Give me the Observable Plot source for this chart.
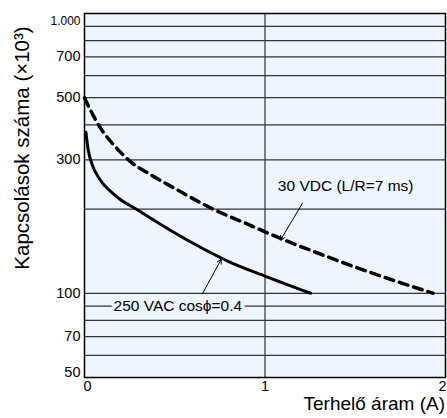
<!DOCTYPE html>
<html>
<head>
<meta charset="utf-8">
<script src="https://cdn.jsdelivr.net/npm/d3@7"></script>
<script src="https://cdn.jsdelivr.net/npm/@observablehq/plot@0.6"></script>
<style>
  html, body { margin: 0; padding: 0; background: white; }
</style>
</head>
<body>
<div id="chart"></div>
<script>
// ---- data ----
const vacX = [0.008, 0.019, 0.042, 0.086, 0.169, 0.297, 0.475, 0.642, 0.808, 1.003, 1.253];
const vacY = [376, 330, 289, 255, 224, 198, 168, 146, 129, 115, 100];
const vdcX = [0, 0.031, 0.086, 0.169, 0.253, 0.364, 0.531, 0.697, 0.892, 1.086, 1.308, 1.531, 1.753, 1.931];
const vdcY = [500, 454, 392, 335, 296, 266, 231, 202, 178, 157, 138, 122, 109, 100];
const yGrid = [50, 60, 70, 80, 90, 100, 200, 300, 400, 500, 600, 700, 800, 900, 1000];
const yTickLabels = [70, 100, 300, 500, 700];
const yTickLow = [50];
const yTickTop = [1000];
const xTicks = [0, 1, 2];
const seriesLabels = ["30 VDC (L/R=7 ms)", "250 VAC cos\u03D5=0.4"];
const labelX = [1.447, 0.517];
const labelY = [241, 90];
const arrowX1 = [1.208, 0.653], arrowY1 = [210, 99.5];
const arrowX2 = [1.086, 0.757], arrowY2 = [155, 132];
const xLabel = "Terhelő áram (A)";
const yLabel = "Kapcsolások száma (×10³)";

const vac = vacX.map((x, i) => ({x, y: vacY[i]}));
const vdc = vdcX.map((x, i) => ({x, y: vdcY[i]}));
const labels = seriesLabels.map((t, i) => ({t, x: labelX[i], y: labelY[i]}));
const arrows = arrowX1.map((x1, i) => ({x1, y1: arrowY1[i], x2: arrowX2[i], y2: arrowY2[i]}));

const bg = "#eef5fc";
const font = "'Liberation Sans', Arial, Helvetica, sans-serif";
const intFmt = d => String(d);

const chart = Plot.plot({
  width: 447,
  height: 418,
  marginLeft: 84,
  marginRight: 2,
  marginTop: 13,
  marginBottom: 41,
  style: {fontFamily: font, background: "white", color: "black"},
  x: {domain: [0, 2], label: null},
  y: {type: "log", domain: [50, 1000], label: null, axis: null},
  marks: [
    Plot.frame({fill: bg}),
    Plot.ruleY(yGrid, {stroke: "#333", strokeWidth: 1.2}),
    Plot.ruleX([1], {stroke: "#333", strokeWidth: 1.2}),
    Plot.line(vac, {x: "x", y: "y", stroke: "black", strokeWidth: 3, curve: "monotone-x"}),
    Plot.line(vdc, {x: "x", y: "y", stroke: "black", strokeWidth: 3.5, strokeDasharray: "9,6", curve: "monotone-x"}),
    Plot.arrow(arrows, {x1: "x1", y1: "y1", x2: "x2", y2: "y2", stroke: "black", strokeWidth: 1, headLength: 7}),
    Plot.text(labels, {x: "x", y: "y", text: "t", fontSize: 15.5, fill: "black", stroke: bg, strokeWidth: 7, textAnchor: "middle"}),
    Plot.frame({stroke: "black", strokeWidth: 1.5}),
    Plot.text(yTickLabels, {y: d => d, text: intFmt, frameAnchor: "left", textAnchor: "end", dx: -4, fontSize: 14.5, fill: "black"}),
    Plot.text(yTickLow, {y: d => d, text: intFmt, frameAnchor: "left", textAnchor: "end", dx: -4, dy: -5, fontSize: 14.5, fill: "black"}),
    Plot.text(yTickTop, {y: d => d, text: () => "1.000", frameAnchor: "left", textAnchor: "end", dx: -4, dy: 8, fontSize: 12, fill: "black"}),
    Plot.axisX([xTicks[1]], {tickSize: 0, tickPadding: 3, fontSize: 14.5, tickFormat: intFmt, label: null}),
    Plot.axisX([xTicks[0]], {tickSize: 0, tickPadding: 3, fontSize: 14.5, dx: 3, tickFormat: intFmt, label: null}),
    Plot.axisX([xTicks[2]], {tickSize: 0, tickPadding: 3, fontSize: 14.5, dx: -3, tickFormat: intFmt, label: null})
  ]
});

const svg = d3.select(chart);
svg.append("text")
  .attr("x", 445).attr("y", 410)
  .attr("text-anchor", "end")
  .attr("font-family", font)
  .attr("font-size", 19)
  .attr("fill", "black")
  .text(xLabel);
svg.append("text")
  .attr("transform", "translate(29,148) rotate(-90)")
  .attr("text-anchor", "middle")
  .attr("font-family", font)
  .attr("font-size", 20.5)
  .attr("fill", "black")
  .text(yLabel);

document.getElementById("chart").appendChild(chart);
</script>
</body>
</html>
